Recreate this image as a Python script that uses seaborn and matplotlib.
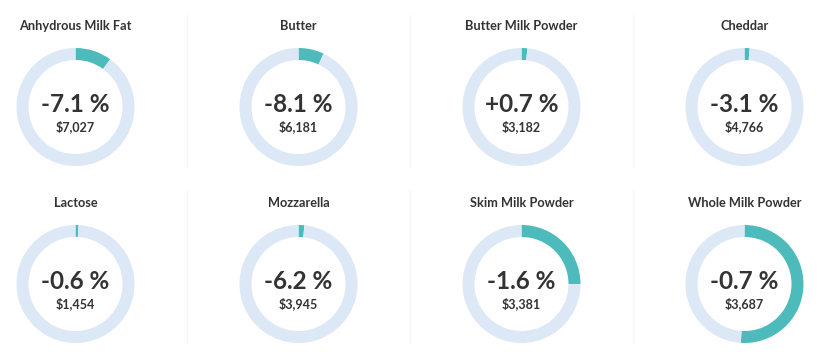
import matplotlib
matplotlib.use("Agg")
import matplotlib.pyplot as plt
import seaborn as sns

sns.set_theme(style="white")
plt.rcParams['font.family'] = ['Lato', 'DejaVu Sans']

products = ["Anhydrous Milk Fat", "Butter", "Butter Milk Powder", "Cheddar",
            "Lactose", "Mozzarella", "Skim Milk Powder", "Whole Milk Powder"]
pct_change = [-7.1, -8.1, 0.7, -3.1, -0.6, -6.2, -1.6, -0.7]
prices = [7027, 6181, 3182, 4766, 1454, 3945, 3381, 3687]
gauge_fill = [0.10, 0.07, 0.016, 0.014, 0.008, 0.016, 0.25, 0.51]

TEAL = "#4dbbbb"
TRACK = "#dce8f5"
TEXT = "#333333"
SEP = "#f6f6f6"

W, H = 824, 358
fig = plt.figure(figsize=(W / 100, H / 100), dpi=100)
fig.patch.set_facecolor("white")

col_w = 223
col_x0 = -36
row_cy = [107, 284]
R = 59
ring_w = 12

overlay = fig.add_axes([0, 0, 1, 1])
overlay.set_xlim(0, W)
overlay.set_ylim(H, 0)
overlay.axis("off")

for k in range(1, 4):
    x = col_x0 + k * col_w
    overlay.plot([x, x], [15, 167], color=SEP, lw=1.0)
    overlay.plot([x, x], [190, 343], color=SEP, lw=1.0)

for i, name in enumerate(products):
    r, c = divmod(i, 4)
    cx = col_x0 + col_w * c + col_w / 2
    cy = row_cy[r]
    ax = fig.add_axes([(cx - R) / W, 1 - (cy + R) / H, 2 * R / W, 2 * R / H])
    f = gauge_fill[i]
    ax.pie([f, 1 - f], startangle=90, counterclock=False, colors=[TEAL, TRACK],
           radius=1, wedgeprops=dict(width=ring_w / R, edgecolor="none", linewidth=0))
    ax.set_xlim(-1, 1)
    ax.set_ylim(-1, 1)
    ax.set_aspect("equal")
    ax.axis("off")

    overlay.text(cx, cy - 81, name, ha="center", va="center", fontsize=9.2,
                 fontweight="bold", color=TEXT)
    sign = "+" if pct_change[i] > 0 else "-"
    overlay.text(cx, cy - 2.5, f"{sign}{abs(pct_change[i]):.1f} %", ha="center", va="center",
                 fontsize=17.5, fontweight="bold", color=TEXT)
    overlay.text(cx, cy + 20, f"${prices[i]:,}", ha="center", va="center",
                 fontsize=9, fontweight="bold", color=TEXT)

fig.savefig("out.png", dpi=100, facecolor="white")
